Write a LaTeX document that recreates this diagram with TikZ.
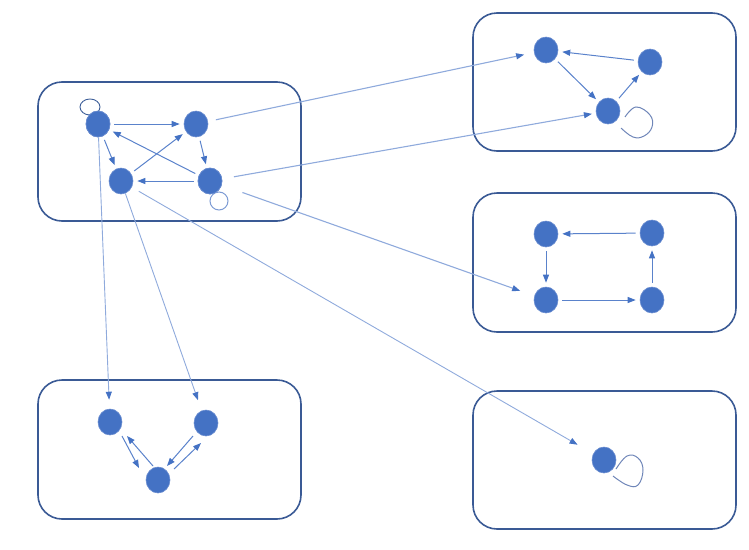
\documentclass[tikz,border=0pt]{standalone}
\usetikzlibrary{arrows.meta,calc,shapes.geometric}
\definecolor{nodefill}{HTML}{4472C4}
\definecolor{noderim}{HTML}{6A8DD0}
\definecolor{boxline}{HTML}{3A5A95}
\definecolor{edgeline}{HTML}{5A82CB}
\definecolor{longline}{HTML}{8FAADC}
\definecolor{loopdark}{HTML}{3F5F99}
\definecolor{looplight}{HTML}{7D9BD4}
\definecolor{loopgray}{HTML}{6F86B8}
\tikzset{
  vtx/.style={ellipse,minimum width=24pt,minimum height=26pt,inner sep=0pt,fill=nodefill,draw=noderim,line width=0.6pt},
  grp/.style={draw=boxline,line width=1.6pt,rounded corners=24pt},
  edge/.style={draw=edgeline,line width=1pt,-{Triangle[length=8pt,width=6pt,color=nodefill]},shorten <=4pt,shorten >=4pt},
  pairedge/.style={draw=edgeline,line width=1pt,-{Triangle[length=8pt,width=6pt,color=nodefill]}},
  longedge/.style={draw=longline,line width=1.1pt,-{Triangle[length=8pt,width=6pt,color=nodefill]}},
  loopd/.style={draw=loopdark,line width=0.9pt},
  loopl/.style={draw=looplight,line width=1pt},
  loopg/.style={draw=loopgray,line width=1pt},
}
\begin{document}
\begin{tikzpicture}[x=1pt,y=-1pt]
\useasboundingbox (0,0) rectangle (749,549);
% groups
\draw[grp] (38,82) rectangle (301,221);
\draw[grp] (473,13) rectangle (736,151);
\draw[grp] (473,193) rectangle (736,332);
\draw[grp] (38,380) rectangle (301,519);
\draw[grp] (473,391) rectangle (736,529);
% nodes
\node[vtx] (a1) at (98,124) {};
\node[vtx] (a2) at (196,124) {};
\node[vtx] (a3) at (121,181) {};
\node[vtx] (a4) at (210,181) {};
\node[vtx] (b1) at (546,50) {};
\node[vtx] (b2) at (650,62) {};
\node[vtx] (b3) at (608,111) {};
\node[vtx] (c1) at (546,234) {};
\node[vtx] (c2) at (652,233) {};
\node[vtx] (c3) at (546,300) {};
\node[vtx] (c4) at (652,300) {};
\node[vtx] (d1) at (110,422) {};
\node[vtx] (d2) at (206,423) {};
\node[vtx] (d3) at (158,480) {};
\node[vtx] (e1) at (604,460) {};
% self loops
\draw[loopd] ($(a1)+(-8,-17)$) ellipse [x radius=10, y radius=8];
\draw[loopl] ($(a4)+(9,20)$) circle (9);
\begin{scope}[shift={(b3)}]
\draw[loopg] plot[smooth,tension=0.7] coordinates {(17,6) (28,-4) (42,4) (44,16) (36,25) (25,26) (13,17)};
\end{scope}
\begin{scope}[shift={(e1)}]
\draw[loopg] plot[smooth,tension=0.7] coordinates {(12,9) (23,-4) (34,-2) (39,10) (34,25) (23,25) (9,16)};
\end{scope}
% redraw loop-covered nodes on top
\node[vtx] at (a1) {};
\node[vtx] at (a4) {};
% edges inside A
\draw[edge] (a1) -- (a2);
\draw[edge] (a1) -- (a3);
\draw[edge] (a3) -- (a2);
\draw[edge] (a2) -- (a4);
\draw[edge] (a4) -- (a1);
\draw[edge] (a4) -- (a3);
% edges inside B
\draw[edge] (b2) -- (b1);
\draw[edge] (b1) -- (b3);
\draw[edge] (b3) -- (b2);
% edges inside C
\draw[edge] (c2) -- (c1);
\draw[edge] (c1) -- (c3);
\draw[edge] (c3) -- (c4);
\draw[edge] (c4) -- (c2);
% edges inside D (parallel pairs)
\draw[pairedge] ($(d1)+(12,14)$) -- ($(d3)+(-19,-12)$);
\draw[pairedge] ($(d3)+(-5,-14)$) -- ($(d1)+(17,14)$);
\draw[pairedge] ($(d2)+(-13,13)$) -- ($(d3)+(9,-14)$);
\draw[pairedge] ($(d3)+(16,-11)$) -- ($(d2)+(-5,20)$);
% long edges
\draw[longedge,shorten <=8pt,shorten >=10pt] (a2) -- (b1);
\draw[longedge,shorten <=12pt,shorten >=4pt] (a4) -- (b3);
\draw[longedge,shorten <=22pt,shorten >=15pt] (a4) -- (c3);
\draw[longedge,line width=0.9pt,shorten <=8pt,shorten >=18pt] (a3) -- (e1);
\draw[longedge,line width=0.9pt,shorten <=0pt,shorten >=9pt] (a1) -- (d1);
\draw[longedge,line width=0.9pt,shorten <=0pt,shorten >=11pt] (a3) -- (d2);
\end{tikzpicture}
\end{document}
